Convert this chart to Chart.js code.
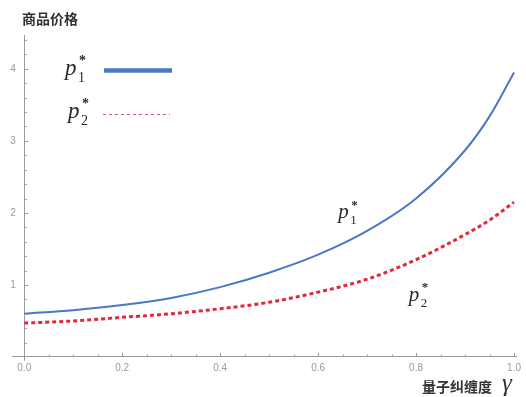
<!DOCTYPE html>
<html>
<head>
<meta charset="utf-8">
<script src="https://cdn.jsdelivr.net/npm/chart.js@4.4.0/dist/chart.umd.min.js"></script>
<style>
  html, body { margin: 0; padding: 0; background: #fff; }
  #wrap { width: 526px; height: 397px; }
</style>
</head>
<body>
<div id="wrap"><canvas id="myChart" width="526" height="397"></canvas></div>
<script>
// values
const gamma = [0, 0.1, 0.2, 0.3, 0.4, 0.5, 0.6, 0.7, 0.8, 0.9, 0.95, 1.0];
const p1 = [0.60, 0.65, 0.72, 0.82, 0.97, 1.17, 1.42, 1.75, 2.20, 2.87, 3.34, 3.95];
const p2 = [0.47, 0.50, 0.55, 0.60, 0.67, 0.76, 0.90, 1.08, 1.35, 1.70, 1.90, 2.15];
const xLabelStep = 0.2;
const yLabels = [1, 2, 3, 4];

const blue = '#4a78c4';
const red = '#e3283c';
const axisGray = '#9a9a9a';

function toPoints(ys) {
    return gamma.map((g, i) => ({ x: g, y: ys[i] }));
}

function isXLabel(v) {
    const k = v / xLabelStep;
    return v >= -1e-9 && Math.abs(k - Math.round(k)) < 1e-6;
}
function isYLabel(v) {
    return yLabels.some(l => Math.abs(l - v) < 1e-6);
}

// p with subscript and a star on top
function drawP(ctx, x, y, sub, size) {
    ctx.fillStyle = '#2a2a2a';
    ctx.textAlign = 'left';
    ctx.textBaseline = 'alphabetic';
    ctx.font = 'italic ' + size + 'px "Liberation Serif"';
    ctx.fillText('p', x, y);
    const w = ctx.measureText('p').width;
    ctx.font = Math.round(size * 0.62) + 'px "Liberation Serif"';
    ctx.fillText(sub, x + w + 1.5, y + size * 0.3);
    ctx.font = 'bold ' + Math.round(size * 0.6) + 'px "Liberation Serif"';
    ctx.fillText('*', x + w + 2.5, y - size * 0.45);
}

const extras = {
    id: 'extras',
    afterDraw(chart) {
        const ctx = chart.ctx;
        const xs = chart.scales.x, ys = chart.scales.y;
        const x0 = xs.getPixelForValue(0), y0 = ys.getPixelForValue(0);
        ctx.save();

        // tick marks pointing into the plot
        ctx.strokeStyle = axisGray;
        ctx.lineWidth = 1;
        ctx.beginPath();
        xs.ticks.forEach(t => {
            if (t.value < 1e-9 || t.value > 1 + 1e-9) return;
            const px = Math.round(xs.getPixelForValue(t.value)) + 0.5;
            const len = isXLabel(t.value) ? 4 : 2.5;
            ctx.moveTo(px, y0);
            ctx.lineTo(px, y0 - len);
        });
        ys.ticks.forEach(t => {
            if (t.value < 1e-9) return;
            const py = Math.round(ys.getPixelForValue(t.value)) + 0.5;
            const len = isYLabel(t.value) ? 4 : 2.5;
            ctx.moveTo(x0, py);
            ctx.lineTo(x0 + len, py);
        });
        ctx.stroke();

        // axis titles
        ctx.fillStyle = '#333';
        ctx.textBaseline = 'middle';
        ctx.textAlign = 'left';
        ctx.font = 'bold 14px "Noto Sans CJK SC"';
        ctx.fillText('商品价格', 22, 19);
        ctx.fillText('量子纠缠度', 422, 387);
        ctx.textBaseline = 'alphabetic';
        ctx.font = 'italic 25px "Liberation Serif"';
        ctx.fillText('γ', 502, 391);

        // legend
        ctx.setLineDash([]);
        ctx.strokeStyle = blue;
        ctx.lineWidth = 4.5;
        ctx.beginPath();
        ctx.moveTo(104, 70.5);
        ctx.lineTo(172, 70.5);
        ctx.stroke();
        ctx.strokeStyle = '#e8506a';
        ctx.lineWidth = 1;
        ctx.setLineDash([3, 3]);
        ctx.beginPath();
        ctx.moveTo(103, 114.5);
        ctx.lineTo(170, 114.5);
        ctx.stroke();
        ctx.setLineDash([]);
        drawP(ctx, 65, 75, '1', 23);
        drawP(ctx, 68, 118, '2', 23);

        // curve labels, placed in data coordinates
        drawP(ctx, xs.getPixelForValue(0.641), ys.getPixelForValue(1.93), '1', 21);
        drawP(ctx, xs.getPixelForValue(0.785), ys.getPixelForValue(0.78), '2', 21);

        ctx.restore();
    }
};

new Chart(document.getElementById('myChart'), {
    type: 'line',
    data: {
        datasets: [{
            label: 'p1*',
            data: toPoints(p1),
            borderColor: blue,
            borderWidth: 2,
            pointRadius: 0,
            cubicInterpolationMode: 'monotone'
        }, {
            label: 'p2*',
            data: toPoints(p2),
            borderColor: red,
            borderWidth: 3,
            borderDash: [4, 3],
            pointRadius: 0,
            cubicInterpolationMode: 'monotone'
        }]
    },
    options: {
        responsive: false,
        animation: false,
        layout: { padding: { left: 12, right: 5, top: 35, bottom: 37 } },
        plugins: {
            legend: { display: false },
            tooltip: { enabled: false }
        },
        scales: {
            x: {
                type: 'linear',
                position: { y: 0 },
                min: -0.025,
                max: 1.005,
                afterFit: s => { s.height = 0; },
                grid: { display: false, drawTicks: false },
                border: { display: true, color: axisGray, width: 1 },
                ticks: {
                    stepSize: 0.05,
                    includeBounds: false,
                    autoSkip: false,
                    maxRotation: 0,
                    padding: 5,
                    color: '#999',
                    font: { family: 'Liberation Sans', size: 10 },
                    callback: v => isXLabel(v) ? v.toFixed(1) : ''
                }
            },
            y: {
                type: 'linear',
                position: { x: 0 },
                min: -0.042,
                max: 4.47,
                afterFit: s => { s.width = 0; },
                grid: { display: false, drawTicks: false },
                border: { display: true, color: axisGray, width: 1 },
                ticks: {
                    stepSize: 0.2,
                    includeBounds: false,
                    autoSkip: false,
                    color: '#999',
                    font: { family: 'Liberation Sans', size: 10 },
                    // trailing spaces keep the label clear of the axis
                    callback: v => isYLabel(v) ? String(Math.round(v)) + '   ' : ''
                }
            }
        }
    },
    plugins: [extras]
});
</script>
</body>
</html>
